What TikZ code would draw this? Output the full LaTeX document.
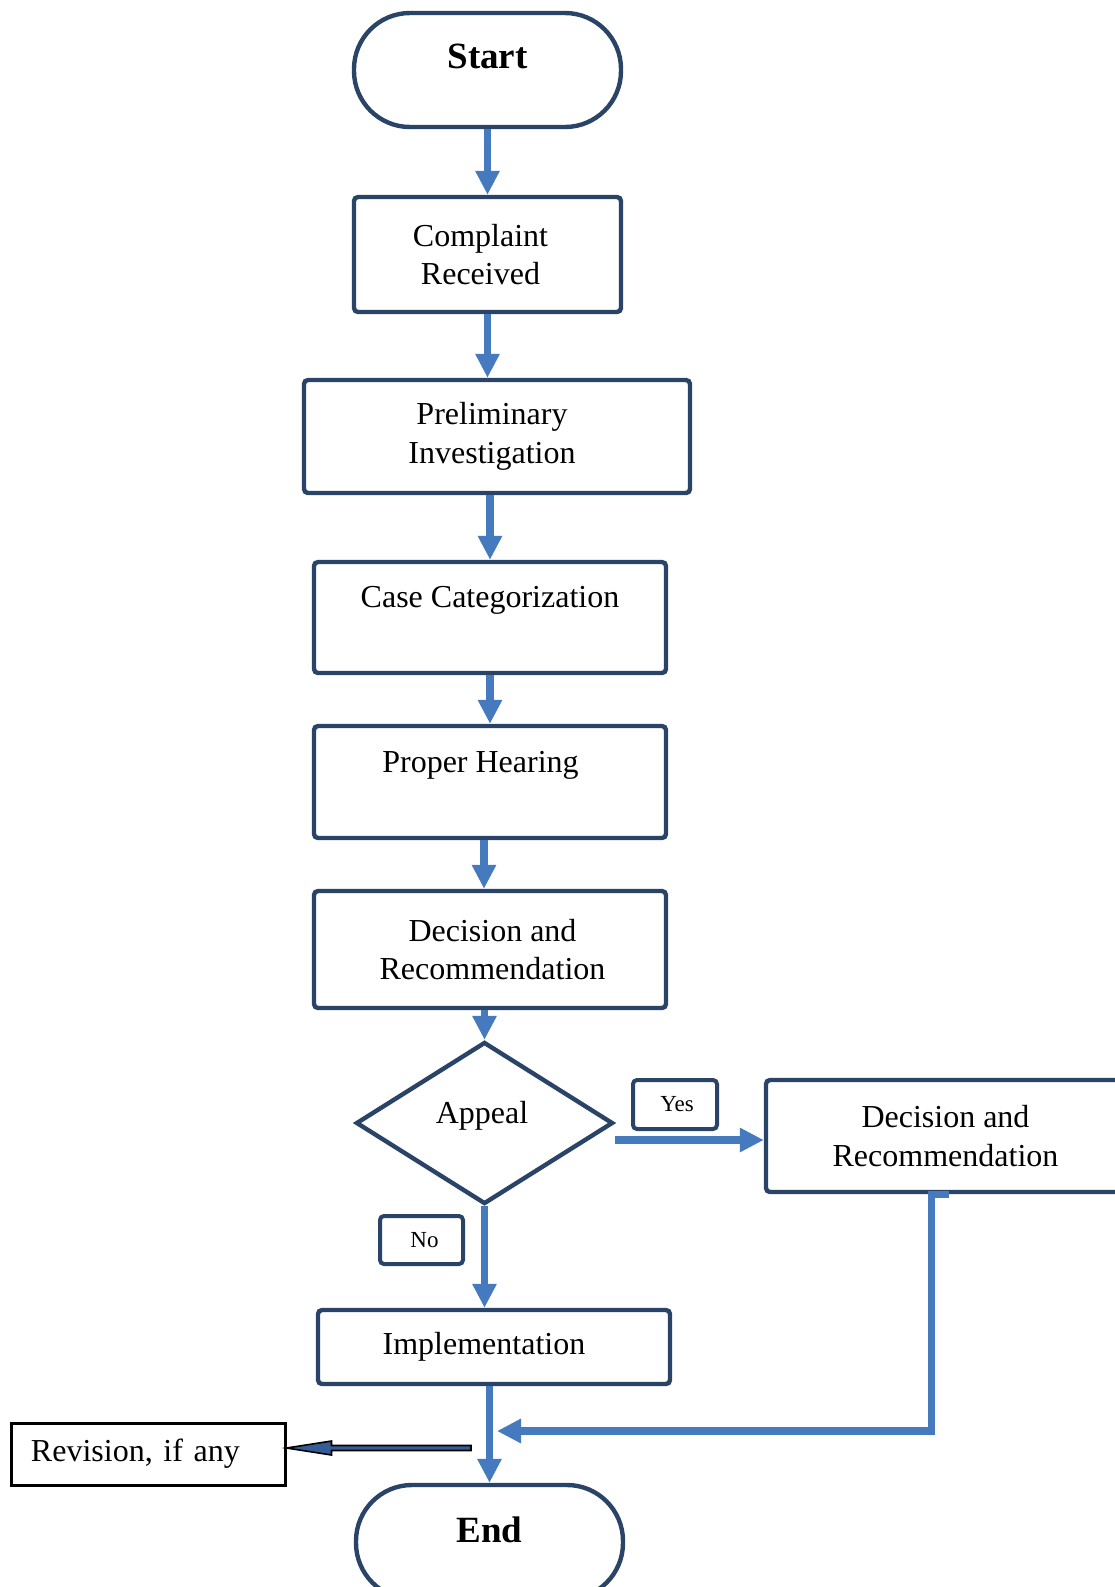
\documentclass[tikz,border=0pt]{standalone}
\usepackage{fontspec}
\setmainfont{Liberation Serif}
\usetikzlibrary{arrows.meta,shapes.geometric}
\definecolor{navy}{RGB}{42,68,104}
\definecolor{arrblue}{RGB}{70,122,190}
\definecolor{revblue}{RGB}{52,92,150}
\begin{document}
\frenchspacing
\begin{tikzpicture}[x=0.5pt,y=-0.5pt,
  box/.style={draw=navy, line width=2.2pt, rounded corners=2pt, fill=white, align=center,
    font=\fontsize{16}{19.2}\selectfont, inner sep=0pt},
  term/.style={box, rounded corners=28pt, font=\fontsize{18.5}{22}\selectfont\bfseries},
  tag/.style={draw=navy, line width=2pt, rounded corners=2pt, fill=white,
    font=\fontsize{11.5}{13}\selectfont, inner sep=0pt},
  arr/.style={draw=arrblue, line width=3.6pt, -{Triangle[length=12pt,width=11.5pt]}},
  revarrow/.style={draw=black, line width=0.8pt, fill=revblue, line join=miter},
]
\useasboundingbox (0,0) rectangle (1115,1587);
\fill[white] (0,0) rectangle (1115,1587);
\clip (0,0) rectangle (1115,1587);

% nodes
\node[term, minimum width=133.5pt, minimum height=57pt, text height=12pt, text depth=14pt] (start) at (487.5,70) {Start};
\node[box, minimum width=133.5pt, minimum height=57.5pt] (complaint) at (487.5,254.5) {Complaint\hspace*{7pt}\\Received\hspace*{7pt}};
\node[box, minimum width=193pt, minimum height=56.5pt] (prelim) at (497,436.5) {Preliminary\hspace*{5pt}\\Investigation\hspace*{5pt}};
\node[box, minimum width=176pt, minimum height=55.5pt, text height=11pt, text depth=21.5pt] (case) at (490,617.5) {Case Categorization};
\node[box, minimum width=176pt, minimum height=56pt, text height=11pt, text depth=21pt] (proper) at (490,782) {Proper Hearing\hspace*{9.5pt}};
\node[box, minimum width=176pt, minimum height=58.5pt] (decision) at (490,949.5) {\hspace*{2.5pt}Decision and\\\hspace*{2.5pt}Recommendation};
\node[box, shape=diamond, rounded corners=0pt, line join=miter, minimum width=128.5pt, minimum height=81pt, text height=11pt, text depth=11pt] (appeal) at (484.5,1123) {Appeal\hspace*{2.5pt}};
\node[tag, minimum width=42pt, minimum height=24.5pt] (yes) at (675,1104.5) {\hspace*{2pt}Yes};
\node[box, minimum width=179.5pt, minimum height=56pt] (rdec) at (945.5,1136) {Decision and\\Recommendation};
\node[tag, minimum width=41.5pt, minimum height=24pt] (no) at (421.5,1240) {\hspace*{3pt}No};
\node[box, minimum width=176pt, minimum height=37pt] (impl) at (494,1347) {Implementation\hspace*{10pt}};
\node[term, minimum width=133.5pt, minimum height=57pt, text height=12pt, text depth=12pt] (end) at (489.5,1542) {End};
\node[draw=black, line width=1.5pt, fill=white, minimum height=31pt, inner xsep=10pt, inner ysep=0pt,
  text width=117pt, align=left, font=\fontsize{16}{19.2}\selectfont] (rev) at (148,1454) {Revision, if any};

% connectors
\draw[arr] (start.south) -- (complaint.north);
\draw[arr] (complaint.south) -- (complaint.south |- prelim.north);
\draw[arr] (case.north |- prelim.south) -- (case.north);
\draw[arr] (case.south) -- (proper.north);
\draw[arr] ([xshift=-3pt]proper.south) -- ([xshift=-3pt]decision.north);
\draw[arr] (decision.south -| appeal.north) -- (appeal.north);
\coordinate (yesstart) at ([yshift=-8.5pt]appeal.east);
\draw[arr] (yesstart) -- (yesstart -| rdec.west);
\draw[arr] (appeal.south) -- (appeal.south |- impl.north);
\draw[arr] (end.north |- impl.south) -- (end.north);
\coordinate (merge) at (497,1431);
\draw[arr, line join=miter] ([xshift=1.5pt]rdec.south) -- ++(-17,0) |- (merge);
\coordinate (revstart) at (471,1448);
\coordinate (revtip) at (rev.east |- revstart);
\draw[revarrow] (revtip) -- ++(45,-7) -- ++(0,4.5) -- ([yshift=1.25pt]revstart)
  -- ([yshift=-1.25pt]revstart) -- ([shift={(22.5pt,-1.25pt)}]revtip) -- ++(0,4.5) -- cycle;
\end{tikzpicture}
\end{document}
